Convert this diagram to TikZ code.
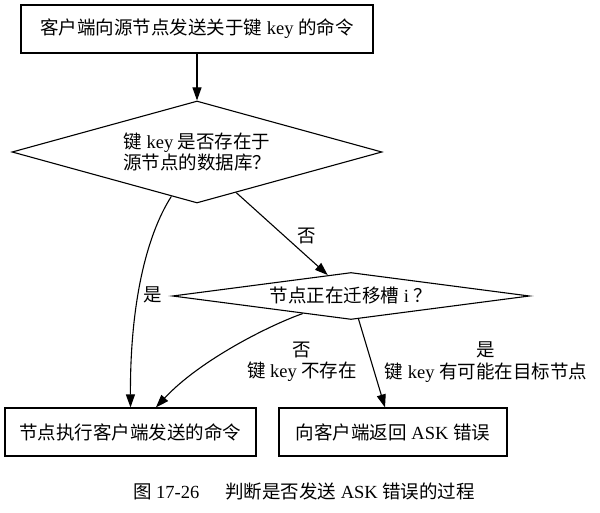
\documentclass[tikz,border=0pt]{standalone}
\usepackage{fontspec}
\setmainfont{Liberation Serif}
\newfontfamily\cjk{Noto Sans CJK SC}
\usetikzlibrary{shapes.geometric,arrows.meta}
\newcommand\zh[1]{{\cjk #1}}
\begin{document}
\begin{tikzpicture}[x=1pt,y=-1pt,
  every node/.style={font=\fontsize{18.5}{21.5}\selectfont},
  procbox/.style={draw, line width=1.1pt, inner sep=0pt, minimum height=48pt},
  decide/.style={draw, diamond, line width=1.1pt, inner sep=0pt, align=center},
  arr/.style={-{Triangle[length=13pt,width=9pt]}, line width=1.1pt},
  lbl/.style={align=center, inner sep=0pt}]
\useasboundingbox[fill=white] (0,0) rectangle (600,513);

\node[procbox, minimum width=352pt] (top) at (197,29)
  {\zh{客户端向源节点发送关于键} key \zh{的命令}};
\node[decide, aspect=3.6, minimum width=370pt, minimum height=102pt] (d1) at (197,152)
  {\zh{键} key \zh{是否存在于}\\\zh{源节点的数据库？}};
\node[decide, aspect=7.6, minimum width=357pt, minimum height=47pt] (d2) at (351,296)
  {\zh{节点正在迁移槽} i \zh{？}};
\node[procbox, minimum width=251pt] (lb) at (130.5,432)
  {\zh{节点执行客户端发送的命令}};
\node[procbox, minimum width=228pt] (rb) at (393,432)
  {\zh{向客户端返回} ASK \zh{错误}};

\draw[arr] (top.south) -- (d1.north);
\draw[arr] (d1.240) .. controls (146,236) and (130,305) .. (lb.north);
\draw[arr] (d1.-46) -- (d2.138);
\draw[arr] (d2.200) .. controls (270,325) and (200,360) .. (lb.44);
\draw[arr] (d2.-72) -- (rb.108);

\node[lbl] (l1) at (307,236) {\zh{否}};
\node[lbl] (l2) at (153,295) {\zh{是}};
\node[lbl] (l3) at (302,362) {\zh{否}\\\zh{键} key \zh{不存在}};
\node[lbl] (l4) at (486,362) {\zh{是}\\\zh{键} key \zh{有可能在目标节点}};

\node[lbl] (cap) at (304,491) {\zh{图} 17-26\hspace{1.4em}\zh{判断是否发送} ASK \zh{错误的过程}};
\end{tikzpicture}
\end{document}
